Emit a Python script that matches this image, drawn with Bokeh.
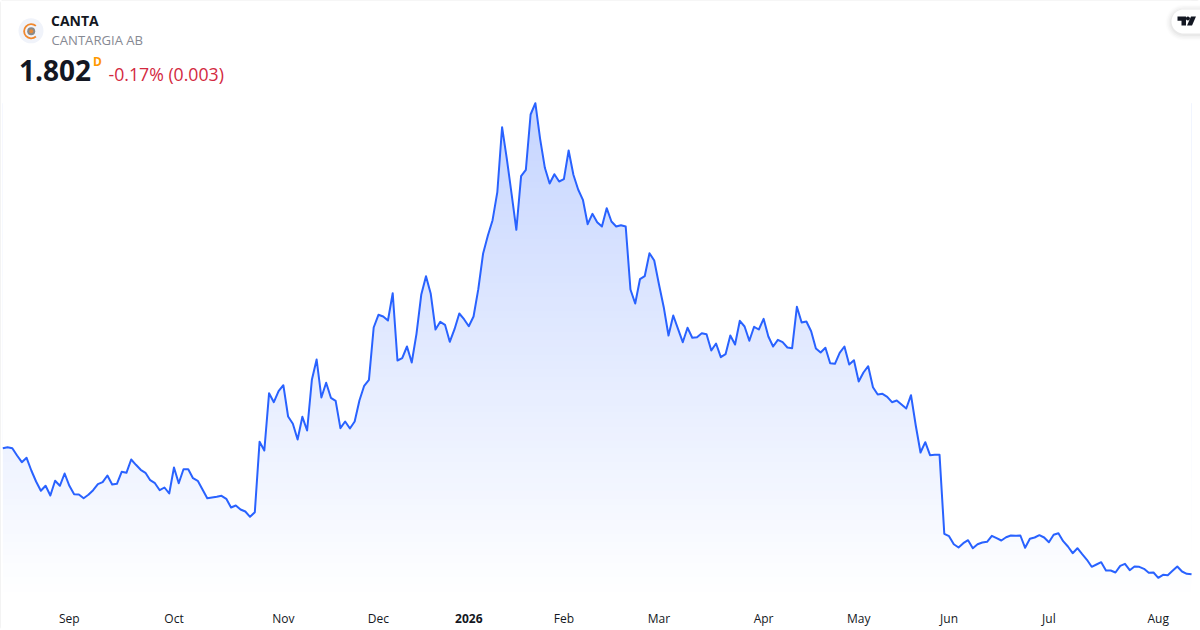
import numpy as np
from bokeh.plotting import figure
from bokeh.models import Label, FixedTicker, Range1d, LinearAxis
from bokeh.embed import file_html
from bokeh.resources import INLINE

# closing prices, one per trading day
prices = [
 3.063,3.073,3.063,2.990,2.923,2.967,2.840,2.730,2.637,2.687,2.590,2.737,2.687,2.810,2.687,2.603,2.600,2.563,2.597,2.643,
 2.703,2.723,2.790,2.700,2.707,2.827,2.817,2.950,2.897,2.847,2.817,2.743,2.713,2.643,2.670,2.610,2.870,2.713,2.853,2.853,
 2.763,2.737,2.650,2.563,2.570,2.577,2.587,2.557,2.470,2.490,2.450,2.430,2.377,2.423,3.127,3.040,3.613,3.523,3.633,3.693,
 3.380,3.307,3.150,3.377,3.240,3.747,3.950,3.570,3.717,3.567,3.537,3.263,3.330,3.260,3.330,3.540,3.687,3.747,4.270,4.397,
 4.380,4.340,4.613,3.940,3.963,4.080,3.920,4.207,4.597,4.783,4.607,4.250,4.327,4.297,4.127,4.253,4.410,4.353,4.283,4.380,
 4.653,5.007,5.187,5.343,5.623,6.273,5.957,5.607,5.247,5.783,5.847,6.400,6.513,6.157,5.867,5.710,5.803,5.730,5.753,6.040,
 5.797,5.650,5.547,5.303,5.407,5.323,5.280,5.463,5.330,5.280,5.293,5.280,4.650,4.510,4.753,4.783,5.013,4.940,4.700,4.473,
 4.190,4.390,4.257,4.123,4.267,4.167,4.173,4.213,4.203,4.040,4.110,3.973,4.003,4.190,4.100,4.337,4.280,4.137,4.277,4.250,
 4.357,4.180,4.080,4.147,4.123,4.070,4.063,4.477,4.320,4.330,4.233,4.060,4.020,4.067,3.913,3.907,4.017,4.080,3.900,3.943,
 3.730,3.820,3.883,3.673,3.600,3.607,3.577,3.523,3.540,3.500,3.460,3.593,3.290,3.020,3.123,2.993,2.997,2.997,2.207,2.183,
 2.103,2.070,2.113,2.143,2.063,2.103,2.120,2.127,2.187,2.163,2.140,2.173,2.190,2.187,2.190,2.067,2.157,2.170,2.193,2.170,
 2.123,2.197,2.213,2.133,2.080,2.013,2.063,2.003,1.947,1.877,1.900,1.923,1.840,1.840,1.820,1.887,1.907,1.843,1.880,1.877,
 1.857,1.817,1.820,1.767,1.797,1.793,1.837,1.880,1.830,1.807,1.802]
tick_positions = [14, 36, 59, 79, 98, 118, 138, 160, 180, 199, 220, 243]
tick_labels = ["Sep", "Oct", "Nov", "Dec", "2026", "Feb", "Mar", "Apr", "May", "Jun", "Jul", "Aug"]
symbol = "CANTA"
name = "CANTARGIA AB"
last_price = "1.802"
change_text = "-0.17% (0.003)"

W, H = 1200, 630
STEP, X0 = 4.755, 2.3
Y_TOP = 7.54
x = np.arange(len(prices))
y = np.array(prices)

x_range = Range1d(-X0 / STEP, (W - X0) / STEP)
y_range = Range1d(Y_TOP - H / 100, Y_TOP)

p = figure(width=W, height=H, frame_width=W, frame_height=H, x_range=x_range, y_range=y_range,
           output_backend="svg", toolbar_location=None, min_border=0,
           x_axis_location=None, y_axis_location=None,
           background_fill_color="white", border_fill_color="white", outline_line_color=None)
p.styles = {"position": "absolute", "left": "0", "top": "0",
            "outline": "2px solid #e6e6e6", "outline-offset": "-2px", "border-radius": "4px"}
p.grid.visible = False

def px(v):
    return (np.asarray(v, float) - X0) / STEP

def py(v):
    return Y_TOP - np.asarray(v, float) / 100

def time_axis(keep_year, style, standoff):
    overrides = {}
    for t, l in zip(tick_positions, tick_labels):
        overrides[t] = l if (l == "2026") == keep_year else ""
    ax = LinearAxis(fixed_location=float(py(604)))
    ax.ticker = FixedTicker(ticks=tick_positions)
    ax.major_label_overrides = overrides
    ax.axis_line_color = None
    ax.major_tick_line_color = None
    ax.minor_tick_line_color = None
    ax.major_tick_out = 0
    ax.major_tick_in = 0
    ax.minor_tick_out = 0
    ax.major_label_text_font = "Open Sans"
    ax.major_label_text_font_size = "12px"
    ax.major_label_text_font_style = style
    ax.major_label_text_color = "#131722"
    ax.major_label_standoff = standoff
    p.add_layout(ax, "below")

# vertical gradient under the line
rows = 256
alpha = np.linspace(0.0, 0.27, rows)      # bottom to top
img = np.zeros((rows, 1), dtype=np.uint32)
view = img.view(dtype=np.uint8).reshape((rows, 1, 4))
view[:, 0, 0] = 41
view[:, 0, 1] = 98
view[:, 0, 2] = 255
view[:, 0, 3] = (alpha * 255).astype(np.uint8)
y_top_fill = float(y.max())
y_bot_fill = float(py(600))
p.image_rgba(image=[img], x=0, y=y_bot_fill, dw=len(prices) - 1, dh=y_top_fill - y_bot_fill)
# white mask above the line leaves the gradient only beneath it
p.varea(x=x, y1=y, y2=Y_TOP, fill_color="white", fill_alpha=1)
p.line(x, y, line_color="#2962FF", line_width=2, line_join="round")

time_axis(False, "normal", 5)
time_axis(True, "bold", 9)

# header logo
p.scatter(px([30.5]), py([30.3]), size=25, marker="circle", fill_color="#f0f3fa", line_color=None)
p.annular_wedge(px([30.7]), py([30.7]), inner_radius=6.2, outer_radius=8,
                inner_radius_units="screen", outer_radius_units="screen",
                start_angle=0.85, end_angle=-0.85, fill_color="#f0882e", line_color=None)
p.scatter(px([30.7]), py([30.7]), size=8, marker="circle", fill_color="#8a8a8a", line_color=None)
p.scatter(px([30.7]), py([30.7]), size=4, marker="circle", fill_color="#e58a3c", line_color=None)

# watermark button: soft shadow, white pill, TV mark
theta = np.linspace(np.pi / 2, 3 * np.pi / 2, 24)
for grow, a in [(6, 0.012), (4.5, 0.018), (3, 0.024), (1.5, 0.03)]:
    sx = np.r_[1183 + (12 + grow) * np.cos(theta), 1200, 1200]
    sy = np.r_[22 - (12 + grow) * np.sin(theta), 22 + 12 + grow, 22 - 12 - grow]
    p.patch(px(sx), py(sy), fill_color="black", fill_alpha=a, line_color=None)
pill_x = np.r_[1183 + 12 * np.cos(theta), 1200, 1200]
pill_y = np.r_[21 - 12 * np.sin(theta), 33, 9]
p.patch(px(pill_x), py(pill_y), fill_color="white", line_color=None)
p.patch(px([1177, 1185.5, 1185.5, 1181, 1181, 1177]), py([16, 16, 25, 25, 20.2, 20.2]),
        fill_color="#131722", line_color=None)
p.scatter(px([1187.4]), py([18]), size=4, marker="circle", fill_color="#131722", line_color=None)
p.patch(px([1190.5, 1195.5, 1191.5, 1186.5]), py([16, 16, 25, 25]), fill_color="#131722", line_color=None)

def label(text, sx, base_y, size_px, color, style="normal"):
    p.add_layout(Label(x=sx, y=H - base_y + 0.4 * size_px, x_units="screen", y_units="screen", text=text,
                       text_font="Open Sans", text_font_size=f"{size_px}px", text_color=color,
                       text_font_style=style, text_baseline="alphabetic", text_align="left"))

label(symbol, 50.5, 26, 14, "#131722", "bold")
label(name, 51, 45, 13.1, "#868993")
label(last_price, 18.5, 81, 28, "#131722", "bold")
label("D", 92.5, 65.5, 12, "#ff9800", "bold")
label(change_text, 108, 81, 17.7, "#d3293f")

open("out.html", "w").write(file_html(p, INLINE))
